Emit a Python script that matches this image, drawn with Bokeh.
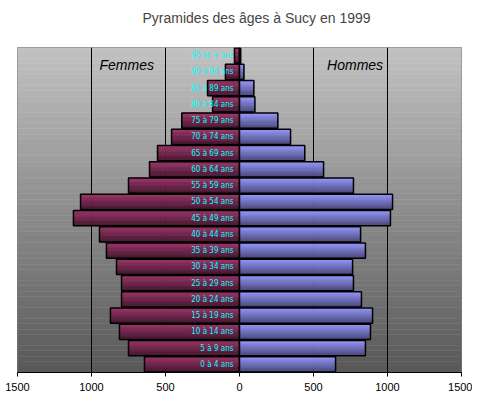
import numpy as np
from bokeh.plotting import figure
from bokeh.models import FixedTicker, Range1d, Label, Title
from bokeh.core.properties import value
from bokeh.embed import file_html
from bokeh.resources import INLINE

# ---- data (bottom to top) ----
categories = ["0 à 4 ans", "5 à 9 ans", "10 à 14 ans", "15 à 19 ans", "20 à 24 ans",
              "25 à 29 ans", "30 à 34 ans", "35 à 39 ans", "40 à 44 ans", "45 à 49 ans",
              "50 à 54 ans", "55 à 59 ans", "60 à 64 ans", "65 à 69 ans", "70 à 74 ans",
              "75 à 79 ans", "80 à 84 ans", "85 à 89 ans", "90 à 94 ans", "95 et + ans"]
femmes = [642, 750, 811, 872, 797, 797, 831, 899, 946, 1122,
          1074, 750, 608, 554, 459, 390, 182, 216, 95, 34]
hommes = [649, 851, 885, 899, 824, 770, 764, 851, 818, 1020,
          1034, 770, 568, 441, 345, 259, 104, 97, 30, 8]
tick_values = [-1500, -1000, -500, 0, 500, 1000, 1500]
tick_labels = ["1500", "1000", "500", "0", "500", "1000", "1500"]
title_text = "Pyramides des âges à Sucy en 1999"

XMIN, XMAX = -1500, 1500
n = len(categories)
ypos = np.arange(n)
YMIN, YMAX = -0.5, n - 0.5

p = figure(width=472, height=396, output_backend="svg", toolbar_location=None,
           x_range=Range1d(XMIN, XMAX), y_range=Range1d(YMIN, YMAX),
           min_border_left=17, min_border_right=11, min_border_top=47, min_border_bottom=24,
           title=title_text)
p.title.text_font = "Liberation Sans"
p.title.text_font_size = "14px"
p.title.text_font_style = "normal"
p.title.align = "left"
p.title.offset = 125
p.title.vertical_align = "top"
p.title.standoff = 18
# spacer between frame and title
p.add_layout(Title(text=" ", text_font_size="1px", standoff=8), "above")
p.outline_line_color = "#808080"
p.outline_line_width = 1


def lerp(c1, c2, t):
    return "#%02x%02x%02x" % tuple(int(round(a + (b - a) * t)) for a, b in zip(c1, c2))


# ---- background gradient ----
NB = 60
bs = np.linspace(YMIN, YMAX, NB + 1)
bg_cols = [lerp((88, 88, 88), (194, 194, 194), (k + 0.5) / NB) for k in range(NB)]
p.quad(left=XMIN, right=XMAX, bottom=bs[:-1], top=bs[1:], fill_color=bg_cols,
       line_color=bg_cols, line_width=0.5, level="image")

# ---- bars with vertical gradient ----
H = 0.94
NS = 12


def gradient_bars(lefts, rights, top_col, bot_col):
    ys, ls, rs, cs = [], [], [], []
    for i in range(n):
        for k in range(NS):
            ys.append(ypos[i] + H / 2 - (k + 0.5) * H / NS)
            ls.append(lefts[i])
            rs.append(rights[i])
            cs.append(lerp(top_col, bot_col, k / (NS - 1)))
    p.hbar(y=ys, left=ls, right=rs, height=H / NS, fill_color=cs, line_color=cs, line_width=0.6)
    p.hbar(y=ypos, left=lefts, right=rights, height=H, fill_color=None,
           line_color="black", line_width=1.5)


f_left = [-v for v in femmes]
gradient_bars(f_left, [0] * n, (156, 52, 104), (74, 24, 50))
gradient_bars([0] * n, hommes, (152, 152, 252), (76, 76, 130))

p.text(x=[0] * n, y=ypos, text=categories, x_offset=-6, text_align="right",
       text_baseline="middle", text_color="#00ffff",
       text_font=value("DejaVu Sans Condensed"), text_font_size="8px",
       text_font_style="normal")

p.add_layout(Label(x=-762, y=18.4, text="Femmes", text_align="center", text_baseline="middle",
                   text_font="Liberation Sans", text_font_size="14px", text_font_style="italic",
                   text_color="black"))
p.add_layout(Label(x=781, y=18.4, text="Hommes", text_align="center", text_baseline="middle",
                   text_font="Liberation Sans", text_font_size="14px", text_font_style="italic",
                   text_color="black"))

# ---- axes / grid ----
p.yaxis.visible = False
p.ygrid.visible = False
p.xaxis.ticker = FixedTicker(ticks=tick_values)
p.xaxis.major_label_overrides = dict(zip(tick_values, tick_labels))
p.xaxis.axis_line_color = "black"
p.xaxis.major_tick_line_color = "black"
p.xaxis.major_tick_in = 0
p.xaxis.major_tick_out = 4
p.xaxis.minor_tick_line_color = None
p.xaxis.major_label_standoff = 6
p.xaxis.major_label_text_font = "Liberation Sans"
p.xaxis.major_label_text_font_size = "11px"
p.xaxis.major_label_text_color = "black"
p.xgrid.ticker = FixedTicker(ticks=[-1000, -500, 500, 1000])
p.xgrid.grid_line_color = "black"
p.xgrid.grid_line_width = 1

open("out.html", "w").write(file_html(p, INLINE))
